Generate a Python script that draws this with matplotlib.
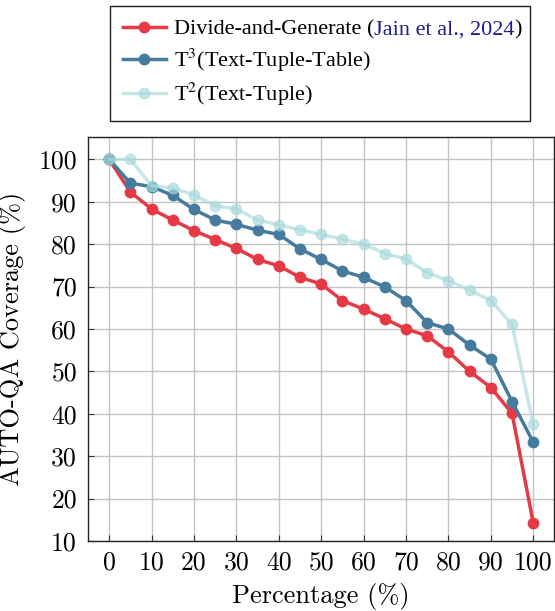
import matplotlib
matplotlib.use("Agg")
import matplotlib.pyplot as plt

plt.rcParams["mathtext.fontset"] = "stix"

x = [0, 5, 10, 15, 20, 25, 30, 35, 40, 45, 50, 55, 60, 65, 70, 75, 80, 85, 90, 95, 100]
divide_generate = [100, 92.3, 88.3, 85.7, 83.2, 81.1, 79.0, 76.4, 74.9, 72.2, 70.6, 66.7,
                   64.7, 62.4, 60.0, 58.4, 54.6, 50.0, 46.2, 40.1, 14.3]
t3 = [100, 94.4, 93.6, 91.5, 88.2, 85.7, 84.7, 83.3, 82.3, 78.9, 76.4, 73.7,
      72.2, 69.9, 66.7, 61.5, 60.0, 56.2, 52.9, 42.9, 33.3]
t2 = [100, 100, 93.8, 93.3, 91.6, 89.1, 88.3, 85.7, 84.6, 83.4, 82.3, 81.2,
      80.0, 77.8, 76.5, 73.3, 71.4, 69.2, 66.7, 61.1, 37.5]
xticks = [0, 10, 20, 30, 40, 50, 60, 70, 80, 90, 100]
yticks = [10, 20, 30, 40, 50, 60, 70, 80, 90, 100]

W, H = 555, 611
fig = plt.figure(figsize=(W / 100, H / 100), dpi=100)
ax = fig.add_axes([0.1586, 0.1146, 0.8404, 0.6612])

l1, = ax.plot(x, divide_generate, color="#e63946", lw=2.5, marker="o", ms=7.5, zorder=3)
l2, = ax.plot(x, t3, color="#457b9d", lw=2.5, marker="o", ms=7.5, zorder=4)
l3, = ax.plot(x, t2, color="#a8dadc", lw=2.5, marker="o", ms=7.5, alpha=0.65, zorder=5)

ax.set_xlim(-5, 105)
ax.set_ylim(10, 105.3)
ax.set_xticks(xticks)
ax.set_yticks(yticks)
ax.set_xticklabels([str(v) for v in xticks], family="cmr10", fontsize=18.5)
ax.set_yticklabels([str(v) for v in yticks], family="cmr10", fontsize=18.5)
ax.tick_params(axis="y", direction="in", length=4, width=0.8, color="#333333", pad=8)
ax.tick_params(axis="x", direction="in", length=4, width=0.8, color="#333333", pad=7)
ax.grid(True, color="#c4c4c4", lw=1.0)
ax.set_axisbelow(True)
for s in ax.spines.values():
    s.set_color("#222222")
    s.set_linewidth(1.0)

ax.set_xlabel("Percentage (%)", family="cmr10", fontsize=19, labelpad=6)
ax.set_ylabel("AUTO-QA Coverage (%)", family="cmr10", fontsize=19, labelpad=9)

fs = 16
leg = fig.legend([l1, l2, l3],
                 ["Divide-and-Generate (", r"T$^3$(Text-Tuple-Table)", r"T$^2$(Text-Tuple)"],
                 loc="upper left", bbox_to_anchor=(110 / W, 1 - 118 / H, 420 / W, 112 / H),
                 mode="expand", prop={"family": "Liberation Serif", "size": fs},
                 frameon=True, fancybox=False, edgecolor="#222222", framealpha=1,
                 handlelength=1.9, handletextpad=0.36, labelspacing=0.3,
                 borderpad=0.6, borderaxespad=0)
leg.get_frame().set_linewidth(1.0)

fig.canvas.draw()
r = fig.canvas.get_renderer()
bb = leg.get_texts()[0].get_window_extent(r)
cite = fig.text(bb.x1 / W, bb.y0 / H, "Jain et al., 2024", color="#1c1c8c",
                family="Liberation Serif", fontsize=fs, va="bottom", ha="left", zorder=20)
fig.canvas.draw()
bb2 = cite.get_window_extent(r)
fig.text(bb2.x1 / W, bb2.y0 / H, ")", color="black",
         family="Liberation Serif", fontsize=fs, va="bottom", ha="left", zorder=20)

fig.savefig("out.png", dpi=100)
